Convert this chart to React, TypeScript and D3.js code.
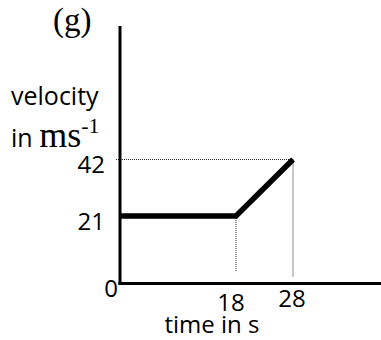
import React from "react";
import * as d3 from "d3";

// ---- data ----
const timeKnots = [0, 18, 28];
const velocityKnots = [0, 21, 42];
const seriesTime = [0, 18, 28];
const seriesVelocity = [21, 21, 42];
const yTickValues = [0, 21, 42];
const xTickValues = [18, 28];
const panelLabel = "(g)";
const xAxisTitle = "time in s";
const yAxisTitle1 = "velocity";

const W = 381;
const H = 340;
const SANS = "'Open Sans', sans-serif";
const SERIF = "'Liberation Serif', 'Times New Roman', serif";

export default function App() {
  // schematic (non-uniform) axes: piecewise-linear scales
  const x = d3.scaleLinear().domain(timeKnots).range([120, 236, 293]);
  const y = d3.scaleLinear().domain(velocityKnots).range([283.5, 216, 159.5]);

  const line = d3
    .line<number>()
    .x((_, i) => x(seriesTime[i]))
    .y((d) => y(d));

  const x0 = x(0);
  const y0 = y(0);

  // per-label small layout tweaks
  const yLabelX = (v: number) => (v === 0 ? 118 : 105);
  const xLabelDx: Record<number, number> = { 18: -5, 28: -1 };
  const xLabelBase: Record<number, number> = { 18: 311, 28: 307 };

  return (
    <svg
      width={W}
      height={H}
      style={{ position: "absolute", left: 0, top: 0, background: "#fff" }}
    >
      {/* dotted guides */}
      <line
        x1={x0 - 4}
        x2={x(28)}
        y1={y(42)}
        y2={y(42)}
        stroke="#222"
        strokeWidth={1}
        strokeDasharray="1,1"
      />
      <line
        x1={x(18)}
        x2={x(18)}
        y1={y(21)}
        y2={272}
        stroke="#222"
        strokeWidth={1}
        strokeDasharray="1,1"
      />
      <line
        x1={x(28)}
        x2={x(28)}
        y1={y(42)}
        y2={277}
        stroke="#222"
        strokeWidth={1}
        strokeDasharray="1,1"
      />

      {/* axes */}
      <line x1={x0} x2={x0} y1={26} y2={y0 + 1.5} stroke="#000" strokeWidth={3} />
      <line x1={x0 - 1.5} x2={W} y1={y0} y2={y0} stroke="#000" strokeWidth={3} />

      {/* data line */}
      <path
        d={line(seriesVelocity) || ""}
        fill="none"
        stroke="#000"
        strokeWidth={5.5}
        strokeLinejoin="miter"
      />

      {/* y tick labels */}
      {yTickValues.map((v) => (
        <text
          key={"y" + v}
          x={yLabelX(v)}
          y={y(v) + 13.5}
          textAnchor="end"
          fontFamily={SANS}
          fontSize={24}
          fill="#000"
        >
          {v}
        </text>
      ))}

      {/* x tick labels */}
      {xTickValues.map((v) => (
        <text
          key={"x" + v}
          x={x(v) + xLabelDx[v]}
          y={xLabelBase[v]}
          textAnchor="middle"
          fontFamily={SANS}
          fontSize={24}
          fill="#000"
        >
          {v}
        </text>
      ))}

      {/* titles */}
      <text x={53} y={31} fontFamily={SERIF} fontSize={33} fill="#000">
        {panelLabel}
      </text>
      <text x={11} y={105} fontFamily={SANS} fontSize={25} fill="#000">
        {yAxisTitle1}
      </text>
      <text x={11} y={147} fill="#000">
        <tspan fontFamily={SANS} fontSize={25}>in </tspan>
        <tspan fontFamily={SERIF} fontSize={36}>ms</tspan>
        <tspan fontFamily={SERIF} fontSize={22} dy={-14}>-1</tspan>
      </text>
      <text
        x={212}
        y={333}
        textAnchor="middle"
        fontFamily={SANS}
        fontSize={24}
        fill="#000"
      >
        {xAxisTitle}
      </text>
    </svg>
  );
}
